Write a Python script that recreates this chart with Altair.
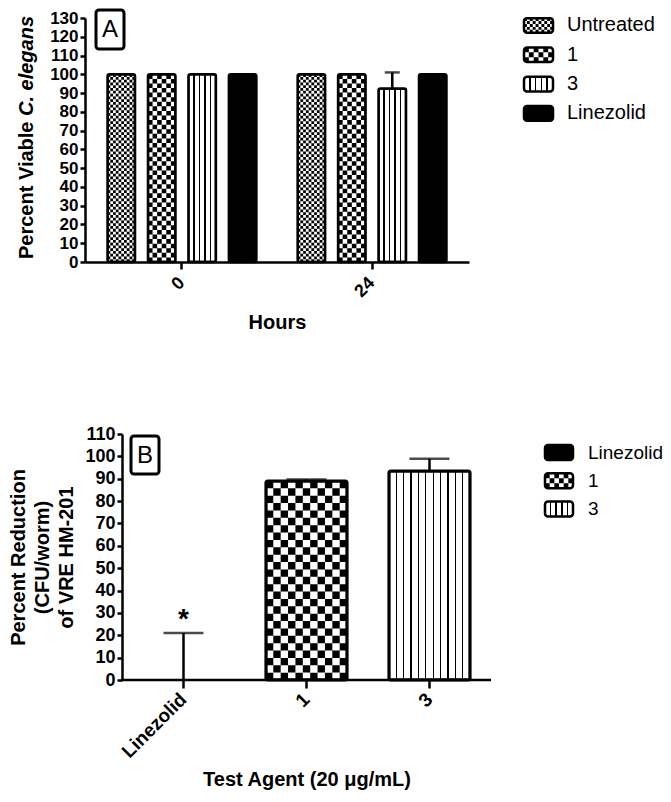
import altair as alt
import pandas as pd

# ---------------- data ----------------
hours = ["0", "24"]
treatments = ["Untreated", "1", "3", "Linezolid"]
viable_untreated = [100, 100]
viable_1 = [100, 100]
viable_3 = [100, 92.5]
viable_linezolid = [100, 100]
err_untreated = [0, 0]
err_1 = [0, 0]
err_3 = [0, 8.5]
err_linezolid = [0, 0]

agents = ["Linezolid", "1", "3"]
reduction = [0, 89, 93.5]
reduction_err = [21, 0.7, 5.4]
star_labels = ["*", "", ""]
legend_b_labels = ["Linezolid", "1", "3"]

FONT = "Liberation Sans"

vals = {"Untreated": viable_untreated, "1": viable_1, "3": viable_3, "Linezolid": viable_linezolid}
errs = {"Untreated": err_untreated, "1": err_1, "3": err_3, "Linezolid": err_linezolid}
dfA = pd.DataFrame([
    {"hours": h, "treatment": t, "value": vals[t][i], "err": errs[t][i]}
    for t in treatments for i, h in enumerate(hours)
])
dfB = pd.DataFrame({"agent": agents, "value": reduction, "err": reduction_err, "star": star_labels})
one = pd.DataFrame({"k": [0]})


# ---------------- pattern helpers (texture styling only) ----------------
def lines(n, t):
    stops = [{"offset": 0, "color": "white"}]
    for i in range(1, n):
        o = i / n
        stops += [{"offset": o - t / 2, "color": "white"}, {"offset": o - t / 2, "color": "black"},
                  {"offset": o + t / 2, "color": "black"}, {"offset": o + t / 2, "color": "white"}]
    stops.append({"offset": 1, "color": "white"})
    return {"gradient": "linear", "x1": 0, "y1": 0, "x2": 1, "y2": 0, "stops": stops}


def checker_path(w, h, nx, ny):
    cw, ch = w / nx, h / ny
    parts = []
    for r in range(ny):
        for k in range(nx):
            if (r + k) % 2 == 0:
                x = -w / 2 + k * cw
                y = -h / 2 + r * ch
                parts.append(f"M{x:.2f},{y:.2f}h{cw:.2f}v{ch:.2f}h{-cw:.2f}z")
    return "".join(parts)


def checker_mark(chart, w, h, nx, ny):
    return chart.mark_point(shape=checker_path(w, h, nx, ny), size=4, filled=True, fill="black",
                            strokeWidth=0, opacity=1)


# ---------------- panel A ----------------
WA, HA = 384, 244
PI_A, PO_A = 0.2, 0.11
PI_OFF, PO_OFF = 0.32, 0.04
stepA = WA / (2 - PI_A + 2 * PO_A)
bandA = stepA * (1 - PI_A)
barA = bandA / (4 - PI_OFF + 2 * PO_OFF) * (1 - PI_OFF)
hA100 = 100 / 130 * HA

x_axis_A = alt.Axis(title="Hours", labelAngle=-45, labelAlign="right", labelBaseline="middle",
                    labelPadding=11, tickSize=7, titlePadding=12)
y_axis_A = alt.Axis(title=None, values=list(range(0, 131, 10)), tickSize=5, labelPadding=2, labelFontSize=17)
XA = alt.X("hours:N", sort=hours, scale=alt.Scale(domain=hours, paddingInner=PI_A, paddingOuter=PO_A),
           axis=x_axis_A)
XOA = alt.XOffset("treatment:N", sort=treatments,
                  scale=alt.Scale(domain=treatments, paddingInner=PI_OFF, paddingOuter=PO_OFF))
ysA = alt.Scale(domain=[0, 130], nice=False)
YA = alt.Y("value:Q", scale=ysA, axis=y_axis_A)
baseA = alt.Chart(dfA).encode(x=XA, xOffset=XOA, y=YA)


def only(chart, name):
    return chart.transform_filter(alt.datum.treatment == name)


midA = alt.Chart(dfA).transform_calculate(mid="datum.value / 2").encode(
    x=XA, xOffset=XOA, y=alt.Y("mid:Q", scale=ysA, axis=y_axis_A))

layersA = [
    baseA.mark_bar(fill="white", strokeWidth=0, cornerRadius=2),
    checker_mark(only(midA, "Untreated"), barA, hA100, 10, 68),
    checker_mark(only(midA, "1"), barA, hA100, 6, 41),
    only(baseA, "3").mark_bar(fill=lines(5, 0.045), strokeWidth=0, cornerRadius=2),
    only(baseA, "Linezolid").mark_bar(fill="black", strokeWidth=0, cornerRadius=2),
    baseA.mark_bar(fillOpacity=0, stroke="black", strokeWidth=2.5, cornerRadius=2),
]
errA = alt.Chart(dfA).transform_filter(alt.datum.err > 0).transform_calculate(upper="datum.value + datum.err")
layersA.append(errA.mark_rule(strokeWidth=2.5, color="black").encode(
    x=XA, xOffset=XOA, y=YA, y2="upper:Q"))
layersA.append(errA.mark_tick(size=15, thickness=2.5, color="black").encode(
    x=XA, xOffset=XOA, y=alt.Y("upper:Q", scale=ysA, axis=y_axis_A)))
# panel label box
layersA.append(alt.Chart(one).mark_rect(fillOpacity=0, stroke="black", strokeWidth=3, cornerRadius=3).encode(
    x=alt.value(11), x2=alt.value(39), y=alt.value(-8), y2=alt.value(31)))
layersA.append(alt.Chart(one).mark_text(text="A", fontSize=24, font=FONT, color="black").encode(
    x=alt.value(25), y=alt.value(12)))
# y title with italic species name
layersA.append(alt.Chart(one).mark_text(text="Percent Viable", angle=270, align="left", baseline="middle",
                                        fontSize=20, fontWeight="bold", font=FONT, color="black").encode(
    x=alt.value(-58), y=alt.value(HA / 2 + 119)))
layersA.append(alt.Chart(one).mark_text(text="C. elegans", angle=270, align="left", baseline="middle",
                                        fontSize=20, fontWeight="bold", fontStyle="italic", font=FONT,
                                        color="black").encode(
    x=alt.value(-58), y=alt.value(HA / 2 + 119 - 143)))
panelA = alt.layer(*layersA).properties(width=WA, height=HA)

# legend A
legA_df = pd.DataFrame({"label": treatments})
LA_R0, LA_R1 = -7.2, 110
symA_h = (LA_R1 - LA_R0) / 4 * 0.5
YLA = alt.Y("label:N", sort=treatments, axis=None,
            scale=alt.Scale(domain=treatments, range=[LA_R0, LA_R1], paddingInner=0.5, paddingOuter=0.25))
baseLA = alt.Chart(legA_df).encode(y=YLA, x=alt.value(0), x2=alt.value(29))
ptLA = alt.Chart(legA_df).encode(y=YLA, x=alt.value(14.5))
legendA = alt.layer(
    baseLA.mark_rect(fill="white", strokeWidth=0, cornerRadius=3),
    checker_mark(ptLA.transform_filter(alt.datum.label == "Untreated"), 29, symA_h, 10, 5),
    checker_mark(ptLA.transform_filter(alt.datum.label == "1"), 29, symA_h, 6, 3),
    baseLA.transform_filter(alt.datum.label == "3").mark_rect(fill=lines(5, 0.06), strokeWidth=0, cornerRadius=3),
    baseLA.transform_filter(alt.datum.label == "Linezolid").mark_rect(fill="black", strokeWidth=0, cornerRadius=3),
    baseLA.mark_rect(fillOpacity=0, stroke="black", strokeWidth=2.5, cornerRadius=3),
    alt.Chart(legA_df).mark_text(align="left", baseline="middle", fontSize=20, font=FONT, color="black").encode(
        x=alt.value(43), y=YLA, text="label:N"),
).properties(width=110, height=110)

# ---------------- panel B ----------------
SHIFT_B = 37          # panel B's plot starts further right than panel A's
WB, HB = 369, 246
PI_B, PO_B = 0.34, 0.17
stepB = WB / (3 - PI_B + 2 * PO_B)
barB = stepB * (1 - PI_B)
hB1 = reduction[1] / 110 * HB

x_axis_B = alt.Axis(title="Test Agent (20 \u03bcg/mL)", labelAngle=-45, labelAlign="right", domain=False,
                    labelBaseline="middle", labelPadding=8, tickSize=8, labelFontSize=19, titlePadding=8)
y_axis_B = alt.Axis(title=["Percent Reduction", "(CFU/worm)", "of VRE HM-201"], values=list(range(0, 111, 10)),
                    tickSize=5, labelPadding=2, titleLineHeight=24, titlePadding=8, offset=-SHIFT_B)
XB = alt.X("agent:N", sort=agents,
           scale=alt.Scale(domain=agents, paddingInner=PI_B, paddingOuter=PO_B, range=[SHIFT_B, SHIFT_B + WB]),
           axis=x_axis_B)
ysB = alt.Scale(domain=[0, 110], nice=False)
YB = alt.Y("value:Q", scale=ysB, axis=y_axis_B)
baseB = alt.Chart(dfB).transform_filter(alt.datum.value > 0).encode(x=XB, y=YB)
midB = alt.Chart(dfB).transform_filter(alt.datum.agent == "1").transform_calculate(
    mid="datum.value / 2").encode(x=XB, y=alt.Y("mid:Q", scale=ysB, axis=y_axis_B))
layersB = [
    baseB.mark_bar(fill="white", strokeWidth=0, cornerRadius=2),
    checker_mark(midB, barB, hB1, 11, 27),
    baseB.transform_filter(alt.datum.agent == "3").mark_bar(fill=lines(11, 0.016), strokeWidth=0, cornerRadius=2),
    baseB.mark_bar(fillOpacity=0, stroke="black", strokeWidth=3, cornerRadius=2),
    # x-axis baseline (drawn here because the plot starts at SHIFT_B)
    alt.Chart(one).mark_rule(strokeWidth=2.5, color="black").encode(
        x=alt.value(SHIFT_B - 1), x2=alt.value(SHIFT_B + WB), y=alt.datum(0, scale=ysB, axis=y_axis_B)),
]
errB = alt.Chart(dfB).transform_calculate(upper="datum.value + datum.err")
layersB.append(errB.mark_rule(strokeWidth=2.5, color="black").encode(x=XB, y=YB, y2="upper:Q"))
layersB.append(errB.mark_tick(size=40, thickness=2.5, color="black").encode(
    x=XB, y=alt.Y("upper:Q", scale=ysB, axis=y_axis_B)))
layersB.append(errB.mark_text(fontSize=28, fontWeight="bold", font=FONT, color="black", baseline="middle",
                              dy=-13).encode(
    x=XB, y=alt.Y("upper:Q", scale=ysB, axis=y_axis_B), text="star:N"))
layersB.append(alt.Chart(one).mark_rect(fillOpacity=0, stroke="black", strokeWidth=3, cornerRadius=3).encode(
    x=alt.value(SHIFT_B + 9), x2=alt.value(SHIFT_B + 37), y=alt.value(2), y2=alt.value(40)))
layersB.append(alt.Chart(one).mark_text(text="B", fontSize=24, font=FONT, color="black").encode(
    x=alt.value(SHIFT_B + 23), y=alt.value(22)))
panelB = alt.layer(*layersB).properties(width=SHIFT_B + WB, height=HB)

legB_df = pd.DataFrame({"label": legend_b_labels})
LB_R0, LB_R1 = 4.4, 89.1
symB_h = (LB_R1 - LB_R0) / 3 * 0.53
YLB = alt.Y("label:N", sort=legend_b_labels, axis=None,
            scale=alt.Scale(domain=legend_b_labels, range=[LB_R0, LB_R1], paddingInner=0.47, paddingOuter=0.235))
baseLB = alt.Chart(legB_df).encode(y=YLB, x=alt.value(0), x2=alt.value(28))
ptLB = alt.Chart(legB_df).encode(y=YLB, x=alt.value(14))
legendB = alt.layer(
    baseLB.mark_rect(fill="white", strokeWidth=0, cornerRadius=3),
    baseLB.transform_filter(alt.datum.label == "Linezolid").mark_rect(fill="black", strokeWidth=0, cornerRadius=3),
    checker_mark(ptLB.transform_filter(alt.datum.label == "1"), 28, symB_h, 6, 3),
    baseLB.transform_filter(alt.datum.label == "3").mark_rect(fill=lines(5, 0.06), strokeWidth=0, cornerRadius=3),
    baseLB.mark_rect(fillOpacity=0, stroke="black", strokeWidth=2.5, cornerRadius=3),
    alt.Chart(legB_df).mark_text(align="left", baseline="middle", fontSize=19, font=FONT, color="black").encode(
        x=alt.value(43), y=YLB, text="label:N"),
).properties(width=90, height=95)

chart = alt.vconcat(
    alt.hconcat(panelA, legendA, spacing=53),
    alt.hconcat(panelB, legendB, spacing=50),
    spacing=92,
).properties(padding=0).configure_view(stroke=None).configure_axis(
    domainColor="black", domainWidth=2.5, tickColor="black", tickWidth=2.5, grid=False,
    labelColor="black", labelFont=FONT, labelFontSize=18, labelFontWeight="bold",
    titleColor="black", titleFont=FONT, titleFontSize=20, titleFontWeight="bold",
).configure_text(font=FONT)

chart.save("out.html", embed_options={"renderer": "svg", "actions": False})
